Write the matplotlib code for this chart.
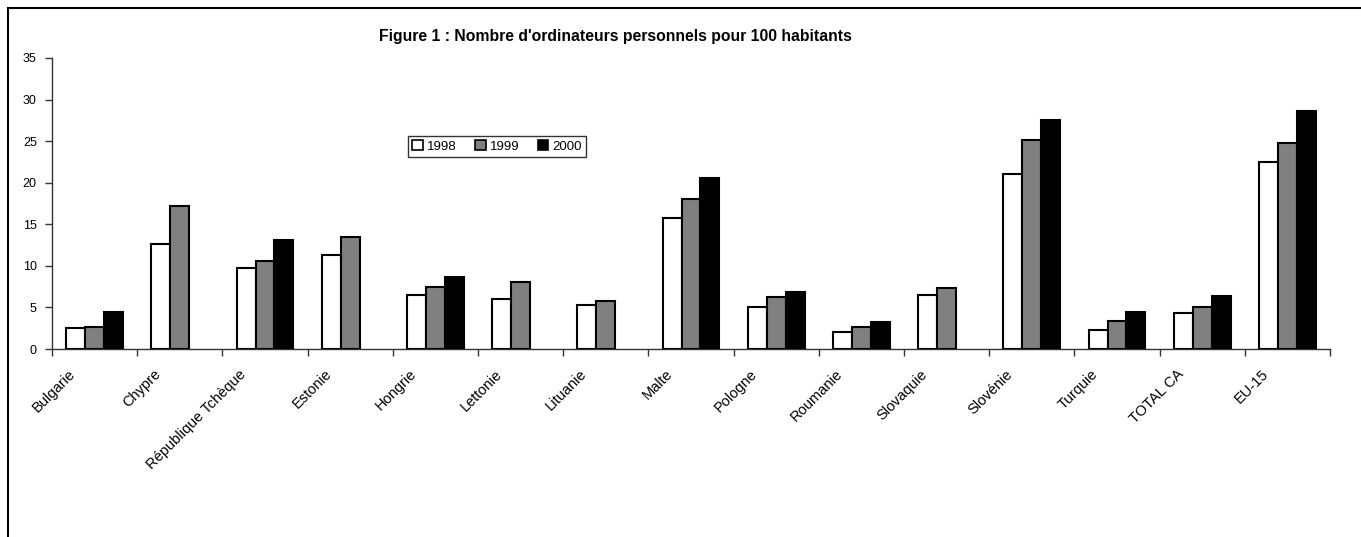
import matplotlib
matplotlib.use('Agg')
import matplotlib.pyplot as plt
import matplotlib.transforms as mtransforms
from matplotlib.patches import Rectangle, Patch
import numpy as np

plt.rcParams['font.family'] = ['Liberation Sans', 'DejaVu Sans']

# Nombre d'ordinateurs personnels pour 100 habitants
pays = ['Bulgarie', 'Chypre', 'République Tchèque', 'Estonie', 'Hongrie',
        'Lettonie', 'Lituanie', 'Malte', 'Pologne', 'Roumanie', 'Slovaquie',
        'Slovénie', 'Turquie', 'TOTAL CA', 'EU-15']
annees = ['1998', '1999', '2000']
v1998 = [2.5, 12.6, 9.8, 11.3, 6.5, 6.0, 5.3, 15.8, 5.0, 2.1, 6.5, 21.1, 2.3, 4.3, 22.5]
v1999 = [2.7, 17.2, 10.6, 13.5, 7.5, 8.1, 5.8, 18.1, 6.2, 2.7, 7.4, 25.1, 3.4, 5.1, 24.8]
v2000 = [4.5, None, 13.1, None, 8.7, None, None, 20.6, 6.9, 3.2, None, 27.5, 4.5, 6.4, 28.6]
couleurs = ['white', '#808080', 'black']

fig = plt.figure(figsize=(13.61, 5.37), dpi=100)
ax = fig.add_axes([0.0382, 0.350, 0.9390, 0.542])

w = 1 / 4.5
series = [v1998, v1999, v2000]
for k, (vals, col) in enumerate(zip(series, couleurs)):
    xs = [i + 0.5 + (k - 1) * w for i, v in enumerate(vals) if v is not None]
    hs = [v for v in vals if v is not None]
    ax.bar(xs, hs, width=w, color=col, edgecolor='black', linewidth=1.5, zorder=3)

ax.set_xlim(0, len(pays))
ax.set_ylim(0, 35)
ax.set_yticks(np.arange(0, 36, 5))
ax.set_xticks(np.arange(0, len(pays) + 1))
ax.set_xticklabels([])
ax.set_xticks(np.arange(len(pays)) + 0.5, minor=True)
ax.set_xticklabels(pays, minor=True, rotation=45, ha='right', va='top',
                   rotation_mode='anchor', fontsize=10.5)
ax.tick_params(axis='x', which='minor', length=0, pad=0)
ax.tick_params(axis='x', which='major', direction='out', length=5, width=1, color='#333333')
ax.tick_params(axis='y', direction='out', length=5, width=1, color='#333333',
               labelsize=9, pad=6)

offset = mtransforms.ScaledTranslation(-0.26, -0.18, fig.dpi_scale_trans)
for lab in ax.xaxis.get_minorticklabels():
    lab.set_transform(lab.get_transform() + offset)

for s in ['top', 'right']:
    ax.spines[s].set_visible(False)
for s in ['left', 'bottom']:
    ax.spines[s].set_color('#333333')
    ax.spines[s].set_linewidth(1)

fig.text(615 / 1361, 1 - 37 / 537, "Figure 1 : Nombre d'ordinateurs personnels pour 100 habitants",
         ha='center', va='center', fontsize=11.3, fontweight='bold')

handles = [Patch(facecolor=c, edgecolor='black', linewidth=1.2) for c in couleurs]
leg = fig.legend(handles, annees, loc='center', bbox_to_anchor=(497 / 1361, 1 - 146.5 / 537),
                 ncol=3, fontsize=9.5, frameon=True, fancybox=False, edgecolor='black',
                 handlelength=0.8, handleheight=0.8, handletextpad=0.3,
                 columnspacing=1.4, borderpad=0.35, borderaxespad=0)
leg.get_frame().set_linewidth(1)

fig.patches.append(Rectangle((8 / 1361, -0.1), 1.2, 1.1 - 8 / 537,
                             transform=fig.transFigure, fill=False,
                             edgecolor='black', linewidth=1.5, clip_on=False))

fig.savefig('out.png', dpi=100)
